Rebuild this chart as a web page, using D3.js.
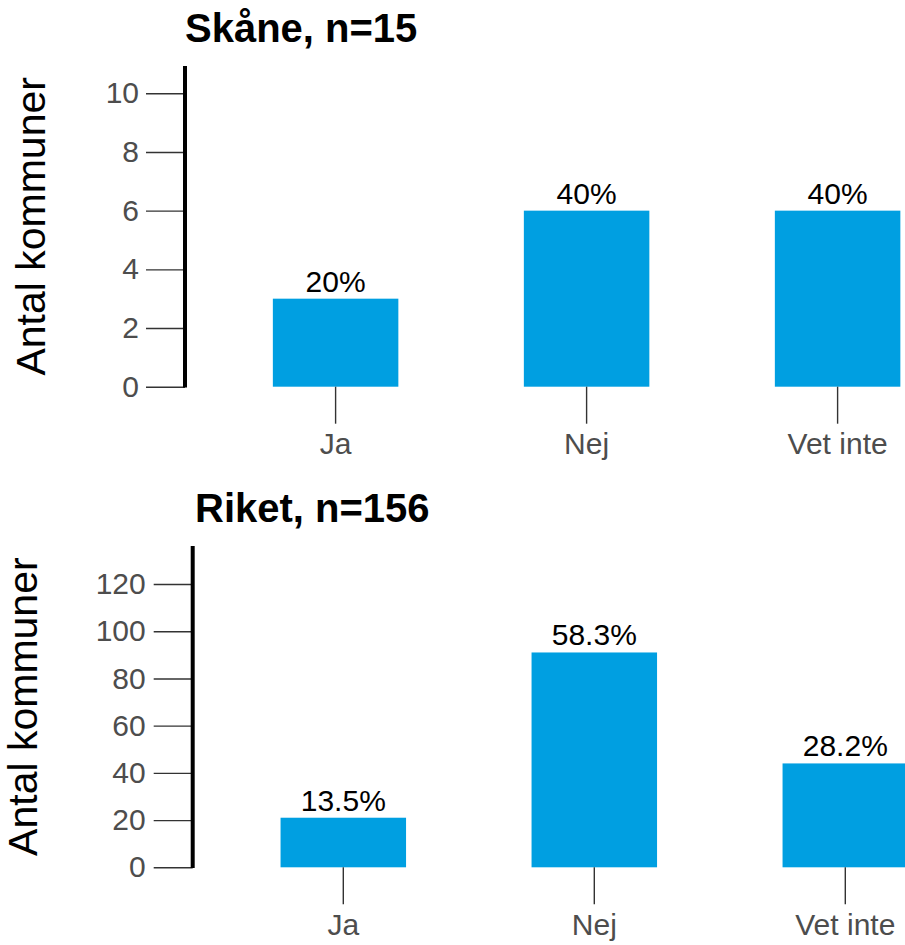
<!DOCTYPE html>
<html>
<head>
<meta charset="utf-8">
<script src="https://cdn.jsdelivr.net/npm/d3@7"></script>
<style>
  html, body { margin: 0; padding: 0; background: #fff; }
  svg { display: block; font-family: "Liberation Sans", Arial, sans-serif; }
</style>
</head>
<body>
<svg id="chart" width="905" height="945"></svg>
<script>
// ---- data ----
const categories = ["Ja", "Nej", "Vet inte"];
const skaneCounts = [3, 6, 6];
const skaneLabels = ["20%", "40%", "40%"];
const riketCounts = [21, 91, 44];
const riketLabels = ["13.5%", "58.3%", "28.2%"];
const skaneTicks = [0, 2, 4, 6, 8, 10];
const riketTicks = [0, 20, 40, 60, 80, 100, 120];
const titles = ["Skåne, n=15", "Riket, n=156"];
const yTitle = "Antal kommuner";

// ---- layout ----
const panels = [
  { title: titles[0], counts: skaneCounts, labels: skaneLabels, ticks: skaneTicks,
    yMax: 10.93, axisX: 185, yTop: 66, yBottom: 386.7, titleY: 42, titleX: 185,
    yLabelX: 45, tickPad: 7 },
  { title: titles[1], counts: riketCounts, labels: riketLabels, ticks: riketTicks,
    yMax: 136.1, axisX: 192.7, yTop: 546, yBottom: 867.3, titleY: 522, titleX: 195,
    yLabelX: 37, tickPad: 8 }
];

const svg = d3.select("#chart");
const barColor = "#009FE1";

panels.forEach(p => {
  const g = svg.append("g");
  const y = d3.scaleLinear().domain([0, p.yMax]).range([p.yBottom, p.yTop]);
  const step = 251;
  const x = d3.scaleBand().domain(categories)
    .range([p.axisX, p.axisX + 3.2 * step])
    .paddingInner(0.5).paddingOuter(0.35);

  // title
  g.append("text")
    .attr("x", p.titleX).attr("y", p.titleY)
    .attr("font-size", 40).attr("font-weight", "bold").attr("fill", "#000")
    .text(p.title);

  // y-axis title
  g.append("text")
    .attr("transform", `translate(${p.yLabelX},${(p.yTop + p.yBottom) / 2}) rotate(-90)`)
    .attr("text-anchor", "middle")
    .attr("font-size", 41).attr("fill", "#000")
    .text(yTitle);

  // bars
  g.selectAll("rect.bar").data(categories).enter().append("rect")
    .attr("class", "bar")
    .attr("x", d => x(d))
    .attr("width", x.bandwidth())
    .attr("y", (d, i) => y(p.counts[i]))
    .attr("height", (d, i) => y(0) - y(p.counts[i]))
    .attr("fill", barColor);

  // bar labels
  g.selectAll("text.val").data(categories).enter().append("text")
    .attr("class", "val")
    .attr("x", d => x(d) + x.bandwidth() / 2)
    .attr("y", (d, i) => y(p.counts[i]) - 7)
    .attr("text-anchor", "middle")
    .attr("font-size", 30).attr("fill", "#000")
    .text((d, i) => p.labels[i]);

  // y axis
  const yAxis = d3.axisLeft(y).tickValues(p.ticks).tickSize(39).tickPadding(p.tickPad);
  const ya = g.append("g").attr("transform", `translate(${p.axisX},0)`).call(yAxis);
  ya.select(".domain").remove();
  ya.selectAll(".tick line").attr("stroke", "#333").attr("stroke-width", 1.4);
  ya.selectAll(".tick text").attr("font-size", 30).attr("fill", "#4D4D4D")
    .attr("font-family", "Liberation Sans, Arial, sans-serif");
  g.append("line")
    .attr("x1", p.axisX).attr("x2", p.axisX)
    .attr("y1", p.yTop).attr("y2", p.yBottom + 0.7)
    .attr("stroke", "#000").attr("stroke-width", 4);

  // x axis
  const xAxis = d3.axisBottom(x).tickSize(37).tickPadding(9);
  const xa = g.append("g").attr("transform", `translate(0,${p.yBottom})`).call(xAxis);
  xa.select(".domain").remove();
  xa.selectAll(".tick line").attr("stroke", "#333").attr("stroke-width", 1.4);
  xa.selectAll(".tick text").attr("font-size", 30).attr("fill", "#4D4D4D")
    .attr("font-family", "Liberation Sans, Arial, sans-serif");
});
</script>
</body>
</html>
